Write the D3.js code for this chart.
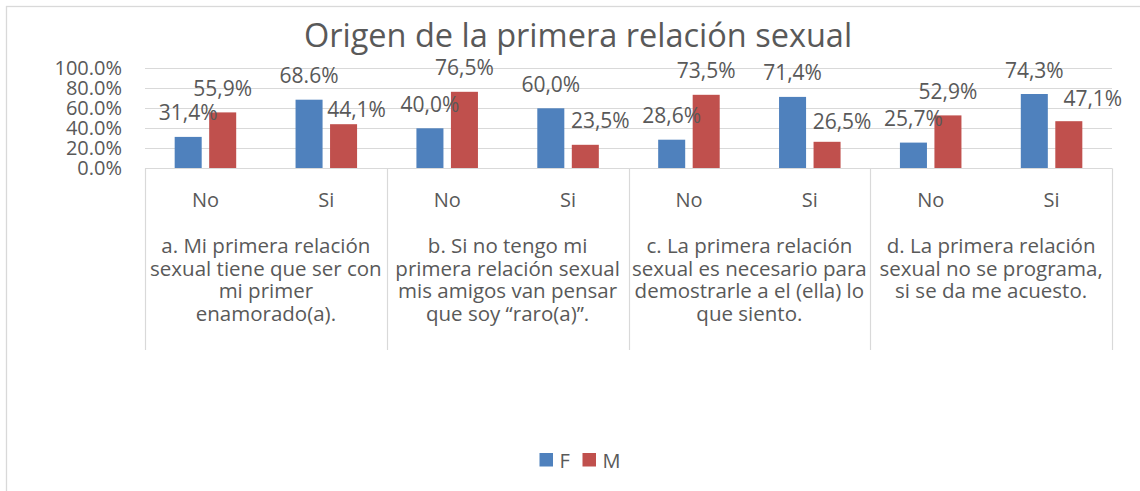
<!DOCTYPE html>
<html>
<head>
<meta charset="utf-8">
<script src="https://cdn.jsdelivr.net/npm/d3@7"></script>
<style>
  html, body { margin: 0; padding: 0; background: #fff; }
  svg { display: block; }
  text { font-family: "Open Sans", "Liberation Sans", sans-serif; fill: #595959; }
</style>
</head>
<body>
<svg id="chart" width="1140" height="491"></svg>
<script>
// ---- data ----
const title = "Origen de la primera relación sexual";
const seriesNames = ["F", "M"];
const answers = ["No", "Si", "No", "Si", "No", "Si", "No", "Si"];
const questions = [
  ["a. Mi primera relación", "sexual tiene que ser con", "mi primer", "enamorado(a)."],
  ["b. Si no tengo mi", "primera relación sexual", "mis amigos van pensar", "que soy “raro(a)”."],
  ["c. La primera relación", "sexual es necesario para", "demostrarle a el (ella) lo", "que siento."],
  ["d. La primera relación", "sexual no se programa,", "si se da me acuesto."]
];
const fValues = [31.4, 68.6, 40.0, 60.0, 28.6, 71.4, 25.7, 74.3];
const mValues = [55.9, 44.1, 76.5, 23.5, 73.5, 26.5, 52.9, 47.1];
const fLabels = ["31,4%", "68.6%", "40,0%", "60,0%", "28,6%", "71,4%", "25,7%", "74,3%"];
const mLabels = ["55,9%", "44,1%", "76,5%", "23,5%", "73,5%", "26,5%", "52,9%", "47,1%"];
const yTicks = [0, 20, 40, 60, 80, 100];
const yTickLabels = ["0.0%", "20.0%", "40.0%", "60.0%", "80.0%", "100.0%"];
// manual label nudges (dx, dy) as placed in the original
const mLabelNudge = [[0, 0], [13, 9.5], [0, 0], [15, 0], [0, 0], [15, 3.5], [0, 0], [24, 1]];

const colors = { F: "#4F81BD", M: "#C0504D" };

// ---- layout ----
const svg = d3.select("#chart");
const plot = { left: 145, right: 1112, top: 68.3, bottom: 168.3 };

svg.append("rect")
  .attr("x", 6.5).attr("y", 6.5).attr("width", 1160).attr("height", 520)
  .attr("fill", "#fff").attr("stroke", "#D9D9D9").attr("stroke-width", 1.3);

svg.append("text")
  .attr("x", 578).attr("y", 34).attr("text-anchor", "middle")
  .attr("dominant-baseline", "central")
  .style("font-size", "32.5px")
  .text(title);

const idx = d3.range(answers.length);
const x0 = d3.scaleBand().domain(idx).range([plot.left, plot.right]).padding(0);
const x1 = d3.scaleBand().domain(seriesNames).range([0, x0.bandwidth()])
  .paddingInner(0.217).paddingOuter(0.86);
const y = d3.scaleLinear().domain([0, 100]).range([plot.bottom, plot.top]);

// gridlines
svg.append("g")
  .selectAll("line").data(yTicks.filter(d => d > 0)).join("line")
  .attr("x1", plot.left).attr("x2", plot.right)
  .attr("y1", d => Math.round(y(d)) + 0.5).attr("y2", d => Math.round(y(d)) + 0.5)
  .attr("stroke", "#D9D9D9").attr("stroke-width", 1.2);

// y axis labels
const yAxis = d3.axisLeft(y).tickValues(yTicks)
  .tickFormat((d, i) => yTickLabels[i]).tickSize(0).tickPadding(23);
const yg = svg.append("g").attr("transform", `translate(${plot.left},0)`).call(yAxis);
yg.select(".domain").remove();
yg.selectAll("text").style("font-size", "20px").attr("fill", "#595959")
  .style("font-family", "'Open Sans', sans-serif");

// bars
const seriesData = [
  { key: "F", values: fValues, labels: fLabels },
  { key: "M", values: mValues, labels: mLabels }
];
const barsG = svg.append("g");
seriesData.forEach(s => {
  barsG.selectAll(null).data(s.values).join("rect")
    .attr("x", (d, i) => x0(i) + x1(s.key))
    .attr("width", x1.bandwidth())
    .attr("y", d => y(d))
    .attr("height", d => y(0) - y(d))
    .attr("fill", colors[s.key]);
});

// category axis: bottom line and group separators
const groupEdges = d3.range(questions.length + 1).map(g => g === questions.length ? plot.right : x0(g * 2));
svg.append("line")
  .attr("x1", plot.left).attr("x2", plot.right)
  .attr("y1", Math.round(y(0)) + 0.5).attr("y2", Math.round(y(0)) + 0.5)
  .attr("stroke", "#D9D9D9").attr("stroke-width", 1.2);
svg.append("g").selectAll("line").data(groupEdges).join("line")
  .attr("x1", d => Math.round(d) + 0.5).attr("x2", d => Math.round(d) + 0.5)
  .attr("y1", y(0)).attr("y2", 350)
  .attr("stroke", "#D9D9D9").attr("stroke-width", 1.2);

// answer labels
svg.append("g").selectAll("text").data(answers).join("text")
  .attr("x", (d, i) => x0(i) + x0.bandwidth() / 2)
  .attr("y", 199).attr("text-anchor", "middle").attr("dominant-baseline", "central")
  .style("font-size", "20px")
  .text(d => d);

// question labels
questions.forEach((lines, g) => {
  const cx = (groupEdges[g] + groupEdges[g + 1]) / 2;
  svg.append("text")
    .attr("text-anchor", "middle")
    .style("font-size", "20.5px")
    .selectAll("tspan").data(lines).join("tspan")
    .attr("x", cx)
    .attr("y", (d, i) => 253 + i * 22.5)
    .text(d => d);
});

// data labels
const labG = svg.append("g");
seriesData.forEach(s => {
  labG.selectAll(null).data(s.values).join("text")
    .attr("x", (d, i) => x0(i) + x1(s.key) + x1.bandwidth() / 2 + (s.key === "M" ? mLabelNudge[i][0] : 0))
    .attr("y", (d, i) => y(d) - 24.5 + (s.key === "M" ? mLabelNudge[i][1] : 0))
    .attr("text-anchor", "middle").attr("dominant-baseline", "central")
    .style("font-size", "21px")
    .text((d, i) => s.labels[i]);
});

// legend
const legend = svg.append("g");
const legendX = [539.5, 582.5];
seriesNames.forEach((n, i) => {
  legend.append("rect").attr("x", legendX[i]).attr("y", 453)
    .attr("width", 13.5).attr("height", 13.5).attr("fill", colors[n]);
  legend.append("text").attr("x", legendX[i] + 20).attr("y", 460)
    .attr("dominant-baseline", "central").style("font-size", "20px").text(n);
});
</script>
</body>
</html>
